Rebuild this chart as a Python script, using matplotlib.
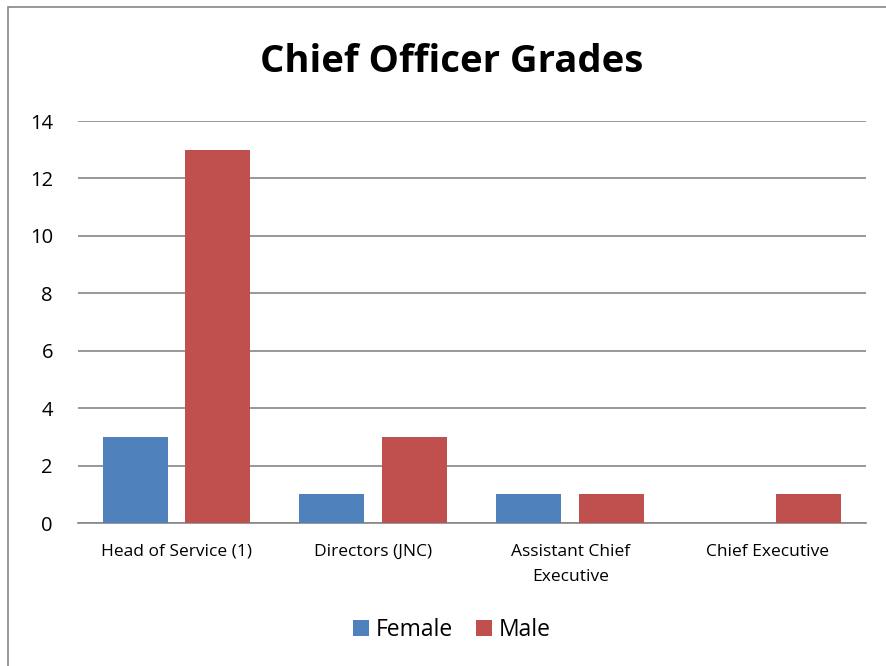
import matplotlib.pyplot as plt
import numpy as np
from matplotlib.patches import Rectangle

plt.rcParams['font.family'] = ['Open Sans', 'DejaVu Sans']

# 数据
categories = ['Head of Service (1)', 'Directors (JNC)', 'Assistant Chief\nExecutive', 'Chief Executive']
female = [3, 1, 1, 0]
male = [13, 3, 1, 1]
yticks = [0, 2, 4, 6, 8, 10, 12, 14]

fig = plt.figure(figsize=(8.86, 6.66), dpi=100)
ax = fig.add_axes([0.088, 0.2147, 0.889, 0.6036])

x = np.arange(len(categories))
w = 0.33
ax.bar(x - 0.21, female, w, color='#4F81BD', label='Female', zorder=3)
ax.bar(x + 0.21, male, w, color='#C0504D', label='Male', zorder=3)

ax.set_xlim(-0.5, len(categories) - 0.5)
ax.set_ylim(0, 14)
ax.set_yticks(yticks)
ax.set_xticks(x)
ax.set_xticklabels(categories, fontsize=12.5, linespacing=1.75)
ax.tick_params(axis='y', labelsize=14.5, length=0, pad=18)
ax.tick_params(axis='x', length=0, pad=15)
ax.yaxis.grid(True, color='#868686', linewidth=1.2, zorder=0)
for s in ['top', 'right', 'left']:
    ax.spines[s].set_visible(False)
ax.spines['bottom'].set_color('#868686')
ax.spines['bottom'].set_linewidth(1.2)

fig.suptitle('Chief Officer Grades', fontsize=27.5, fontweight='bold', x=0.51, y=0.907, va='center')

fig.legend(loc='center', bbox_to_anchor=(0.51, 0.054), ncol=2, frameon=False,
           fontsize=16.5, handlelength=0.7, handleheight=0.7, handletextpad=0.3,
           columnspacing=1.0)

# 外框
fig.patches.append(Rectangle((8 / 886, -0.1), 1.2, 1.1 - 7 / 666, transform=fig.transFigure,
                             fill=False, edgecolor='#868686', linewidth=1.2))

fig.savefig('out.png', dpi=100)
